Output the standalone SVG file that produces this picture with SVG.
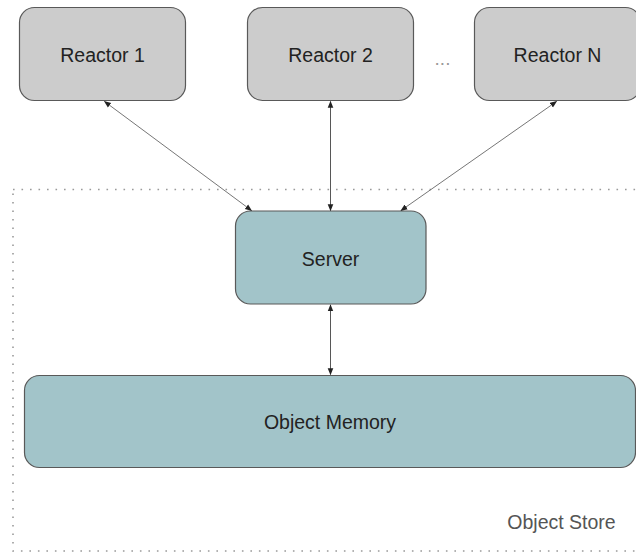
<svg xmlns="http://www.w3.org/2000/svg" width="636" height="552" viewBox="0 0 636 552">
  <style>
    .reactor { fill: #cccccc; stroke: #595959; stroke-width: 1.2; }
    .store { fill: #a2c4c9; stroke: #595959; stroke-width: 1.2; }
    .label { font-family: "Liberation Sans", Arial, sans-serif; font-size: 19.5px; fill: #222222; text-anchor: middle; }
    .boundary { fill: none; stroke: #9a9a9a; stroke-width: 1.6; stroke-dasharray: 1.6 6.9; }
    .link { stroke: #444444; stroke-width: 0.9; fill: none; marker-start: url(#head); marker-end: url(#head); }
    .link-diag { stroke: #666666; }
  </style>
  <defs>
    <marker id="head" viewBox="0 0 10 10" refX="9" refY="5" markerWidth="7" markerHeight="7" markerUnits="userSpaceOnUse" orient="auto-start-reverse">
      <path d="M0,1 L10,5 L0,9 Z" fill="#222222"/>
    </marker>
  </defs>

  <!-- Object Store boundary -->
  <g id="object-store">
    <rect class="boundary" x="13" y="189.5" width="640" height="361.5"/>
    <text class="label" x="561.5" y="528.5" style="fill:#555555;">Object Store</text>
  </g>

  <!-- Reactors -->
  <g id="reactor-1">
    <rect class="reactor" x="19.5" y="7.5" width="166" height="93" rx="15"/>
    <text class="label" x="102.5" y="62">Reactor 1</text>
  </g>
  <g id="reactor-2">
    <rect class="reactor" x="247.5" y="7.5" width="166" height="93" rx="15"/>
    <text class="label" x="330.5" y="62">Reactor 2</text>
  </g>
  <g id="ellipsis">
    <text class="label" x="442.5" y="65" style="fill:#9a9a9a;font-size:19px;">...</text>
  </g>
  <g id="reactor-n">
    <rect class="reactor" x="474.5" y="7.5" width="166" height="93" rx="15"/>
    <text class="label" x="557.5" y="62">Reactor N</text>
  </g>

  <!-- Server -->
  <g id="server">
    <rect class="store" x="235.5" y="211" width="190.5" height="93" rx="15"/>
    <text class="label" x="330.5" y="266">Server</text>
  </g>

  <!-- Object Memory -->
  <g id="object-memory">
    <rect class="store" x="24.5" y="375.5" width="611" height="92" rx="15"/>
    <text class="label" x="330" y="428.5">Object Memory</text>
  </g>

  <!-- Connectors -->
  <g id="connectors">
    <line class="link link-diag" x1="104.5" y1="101.5" x2="251.5" y2="210.5"/>
    <line class="link" x1="330.5" y1="101.5" x2="330.5" y2="210.5"/>
    <line class="link link-diag" x1="556.5" y1="101.5" x2="401" y2="210.5"/>
    <line class="link" x1="330.5" y1="305" x2="330.5" y2="374.5"/>
  </g>
</svg>
